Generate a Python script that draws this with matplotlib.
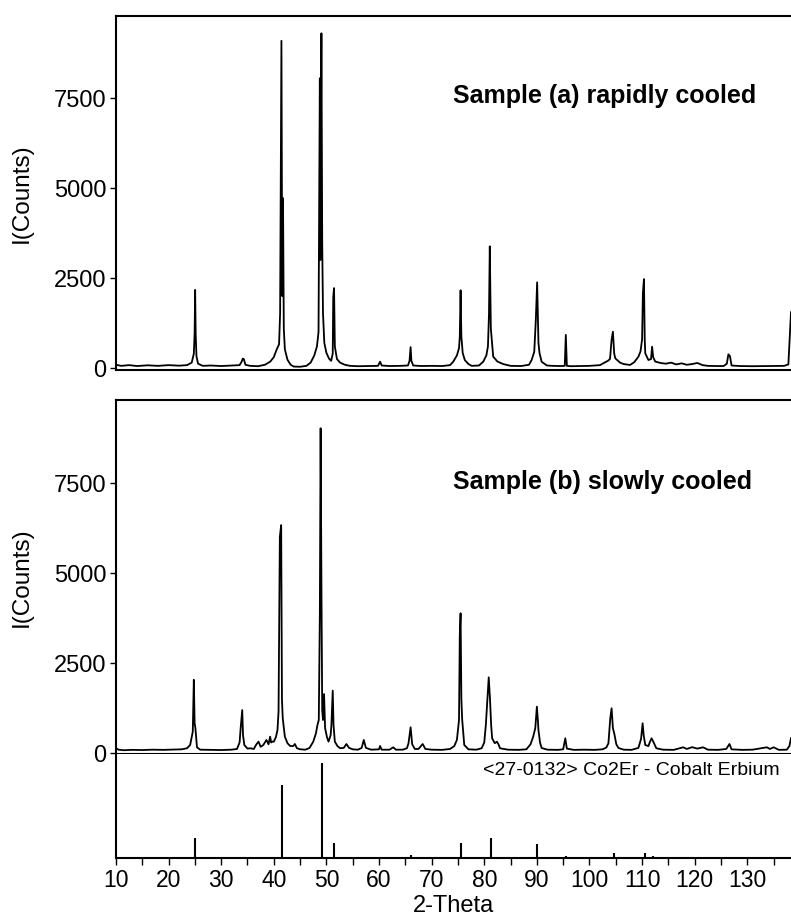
import matplotlib
matplotlib.use("Agg")
import matplotlib.pyplot as plt
from matplotlib.ticker import MultipleLocator

plt.rcParams['font.family'] = ['Liberation Sans', 'DejaVu Sans']

# Sample (a) rapidly cooled: vertices of the diffractogram
theta_a = [10.0, 11.0, 12.5, 14.0, 16.0, 18.0, 20.0, 22.0, 23.5, 24.4, 24.8, 24.95, 25.05, 25.15, 25.3, 25.6,
           26.5, 28.0, 30.0, 32.0, 33.5, 33.9, 34.1, 34.3, 34.6, 35.5, 37.0, 38.3, 39.3, 40.0, 40.5, 41.0,
           41.2, 41.45, 41.6, 41.75, 41.9, 42.1, 42.6, 43.2, 43.8, 45.0, 46.2, 47.0, 47.7, 48.2, 48.5,
           48.75, 48.85, 49.05, 49.2, 49.35, 49.6, 50.0, 50.5, 50.9, 51.2, 51.3, 51.45, 51.6, 52.0, 52.6,
           53.5, 54.5, 56.0, 58.0, 59.8, 60.2, 60.5, 62.0, 64.0, 65.5, 65.8, 66.0, 66.15, 66.5, 68.0, 70.0,
           72.0, 73.5, 74.1, 74.8, 75.2, 75.35, 75.5, 75.65, 75.9, 76.3, 77.0, 77.6, 79.0, 79.8, 80.4, 80.7,
           80.9, 81.05, 81.25, 81.7, 82.5, 83.6, 85.0, 87.0, 88.5, 89.0, 89.5, 89.8, 90.05, 90.3, 90.5,
           90.9, 91.9, 93.0, 94.5, 95.3, 95.5, 95.7, 96.5, 98.0, 100.0, 102.0, 102.6, 103.5, 103.9, 104.2,
           104.45, 104.7, 104.9, 105.8, 106.5, 107.7, 108.5, 109.3, 109.7, 110.0, 110.15, 110.35, 110.5,
           110.6, 111.2, 111.7, 111.9, 112.1, 112.5, 113.5, 114.5, 115.5, 116.5, 117.5, 118.5, 119.5,
           120.5, 121.5, 122.5, 124.0, 125.5, 126.1, 126.4, 126.7, 127.0, 128.5, 131.0, 134.0, 137.0,
           137.8, 138.0, 138.3]
counts_a = [90, 60, 80, 55, 75, 60, 80, 65, 80, 150, 400, 970, 2170, 950, 330, 120,
            60, 70, 55, 70, 80, 180, 260, 250, 90, 60, 50, 90, 175, 300, 500, 660,
            1520, 9090, 2000, 4720, 1100, 520, 230, 90, 40, 35, 60, 150, 350, 600, 1000,
            8050, 3000, 9300, 3500, 1520, 700, 420, 260, 200, 400, 1975, 2220, 600, 250, 150,
            90, 60, 50, 55, 60, 175, 70, 55, 60, 70, 200, 580, 200, 70, 55, 60,
            55, 80, 175, 350, 550, 870, 2160, 870, 420, 222, 110, 60, 70, 175, 350, 600,
            1500, 3380, 1100, 315, 180, 110, 60, 55, 90, 222, 450, 1330, 2380, 700, 420,
            175, 70, 60, 55, 60, 920, 60, 50, 55, 60, 80, 130, 200, 250, 780,
            1010, 400, 270, 150, 110, 85, 160, 315, 463, 800, 2075, 2470, 800,
            408, 222, 250, 593, 300, 180, 140, 120, 150, 100, 130, 90, 110,
            140, 80, 60, 55, 55, 120, 380, 330, 70, 55, 50, 55, 60,
            100, 700, 1550]

# Sample (b) slowly cooled
theta_b = [10.0, 10.5, 11.5, 13.0, 15.0, 17.0, 19.0, 21.0, 22.5, 23.5, 24.1, 24.6, 24.8, 24.95, 25.1, 25.4,
           26.0, 28.0, 30.0, 32.0, 33.0, 33.5, 33.7, 34.0, 34.15, 34.4, 35.0, 35.5, 36.2, 36.7, 37.1, 37.5,
           38.0, 38.3, 38.6, 39.0, 39.3, 39.5, 39.7, 40.0, 40.4, 40.7, 40.9, 41.15, 41.4, 41.55, 41.7, 42.1,
           42.6, 43.1, 43.7, 44.0, 44.4, 45.0, 46.0, 46.8, 47.5, 48.0, 48.3, 48.55, 48.75, 48.9, 49.05,
           49.2, 49.35, 49.55, 49.75, 50.1, 50.4, 50.8, 50.95, 51.2, 51.35, 51.6, 52.1, 52.6, 53.3, 53.8,
           54.3, 55.0, 56.0, 56.7, 57.1, 57.5, 58.5, 60.0, 60.2, 60.5, 62.0, 62.7, 63.2, 64.5, 65.3, 65.6,
           66.0, 66.3, 66.8, 67.5, 68.3, 68.8, 70.0, 72.0, 73.5, 74.3, 74.8, 75.2, 75.35, 75.5, 75.65, 75.8,
           76.2, 77.0, 78.5, 79.5, 80.0, 80.3, 80.85, 81.1, 81.3, 81.5, 82.0, 82.4, 82.7, 83.0, 84.5, 86.5,
           88.0, 88.8, 89.3, 89.7, 90.0, 90.2, 90.3, 90.6, 90.9, 92.0, 94.0, 95.0, 95.4, 95.7, 97.0, 99.0,
           101.0, 102.5, 103.2, 103.6, 103.95, 104.2, 104.45, 104.7, 105.1, 105.5, 106.5, 108.0, 109.3,
           109.8, 110.1, 110.3, 110.6, 111.2, 111.5, 111.8, 112.1, 112.7, 114.0, 116.0, 117.8, 118.5,
           119.5, 120.5, 121.6, 122.5, 124.5, 126.0, 126.6, 127.0, 129.0, 131.0, 133.7, 134.3, 135.0,
           136.0, 137.5, 138.0, 138.3]
counts_b = [140, 100, 85, 95, 90, 100, 95, 105, 110, 140, 230, 600, 2040, 833, 700, 166,
            100, 95, 90, 100, 120, 300, 700, 1200, 500, 230, 130, 139, 120, 250, 323, 180,
            230, 300, 370, 250, 461, 300, 323, 323, 450, 647, 1156, 6017, 6340, 1500, 972, 461,
            280, 203, 200, 258, 140, 111, 100, 150, 323, 550, 786, 925, 3840, 9030, 4720,
            1200, 925, 1647, 700, 450, 323, 500, 786, 1740, 786, 323, 200, 140, 150, 258,
            150, 110, 100, 150, 370, 150, 100, 110, 203, 100, 100, 166, 100, 100, 140, 277,
            722, 250, 120, 120, 258, 120, 100, 95, 120, 200, 370, 925, 3290, 3890, 1500, 944,
            230, 110, 100, 140, 300, 786, 2110, 1480, 800, 416, 280, 323, 250, 139, 100, 95,
            110, 250, 461, 700, 1295, 900, 647, 300, 148, 100, 95, 110, 416, 130, 95, 100,
            95, 110, 160, 277, 970, 1250, 700, 555, 250, 148, 100, 95, 150,
            400, 833, 500, 230, 200, 323, 416, 330, 139, 100, 95, 166, 120,
            170, 130, 166, 100, 95, 120, 258, 110, 95, 100, 166, 120, 166,
            95, 100, 200, 420]

# <27-0132> Co2Er reference pattern (relative intensity)
ref_pos = [25.1, 41.5, 49.1, 51.5, 66.0, 75.6, 81.2, 90.0, 95.6, 104.6, 110.5, 112.0]
ref_int = [21, 76, 100, 16, 3, 16, 21, 15, 2, 5, 5, 2]

x_ticks = [10, 20, 30, 40, 50, 60, 70, 80, 90, 100, 110, 120, 130]
y_ticks = [0, 2500, 5000, 7500]

fig = plt.figure(figsize=(7.91, 9.23), dpi=100)
ax1 = fig.add_axes([0.1466, 0.5991, 0.8534, 0.3835])
ax2 = fig.add_axes([0.1466, 0.1831, 0.8534, 0.3835])
ax3 = fig.add_axes([0.1466, 0.0704, 0.8534, 0.1127])

xmin, xmax = 10, 138.3

for ax, th, ct, lab, ylim in [(ax1, theta_a, counts_a, 'Sample (a) rapidly cooled', (-56, 9778)),
                              (ax2, theta_b, counts_b, 'Sample (b) slowly cooled', (-20, 9815))]:
    ax.plot(th, ct, color='black', lw=1.3)
    ax.set_xlim(xmin, xmax)
    ax.set_ylim(*ylim)
    ax.set_yticks(y_ticks)
    ax.set_xticks([])
    ax.spines['right'].set_visible(False)
    for s in ['left', 'top', 'bottom']:
        ax.spines[s].set_linewidth(1.5)
    ax.tick_params(axis='y', direction='out', length=4, width=1, pad=3, labelsize=17)
    ax.set_ylabel('I(Counts)', fontsize=17.5)
    ax.yaxis.set_label_coords(-0.123, 0.5)
    ax.text(74.1, 7550, lab, fontsize=18, fontweight='bold', ha='left', va='center')

# reference sticks
ax3.vlines(ref_pos, 0, ref_int, color='black', lw=1.5)
ax3.set_xlim(xmin, xmax)
ax3.set_ylim(0, 109)
ax3.set_yticks([])
ax3.spines['right'].set_visible(False)
ax3.spines['top'].set_visible(False)
ax3.spines['left'].set_linewidth(1.5)
ax3.spines['bottom'].set_linewidth(1.5)
ax3.set_xticks(x_ticks)
ax3.xaxis.set_minor_locator(MultipleLocator(5))
ax3.tick_params(axis='x', which='both', direction='out', length=5, width=1, pad=3, labelsize=16.5)
ax3.set_xlabel('2-Theta', fontsize=17, labelpad=2)
ax3.text(136.2, 92, '<27-0132> Co2Er - Cobalt Erbium', fontsize=14, ha='right', va='center')

fig.savefig('out.png', dpi=100)
